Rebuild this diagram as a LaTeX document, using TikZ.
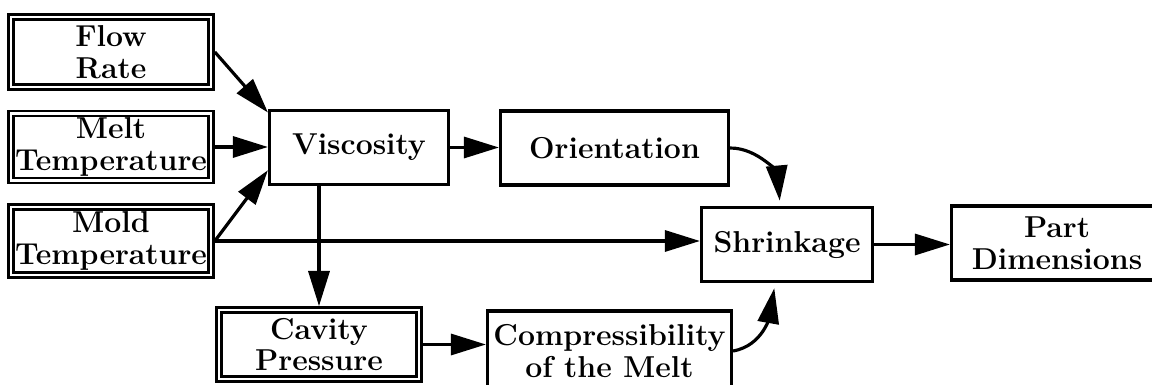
\documentclass[tikz,border=0pt]{standalone}
\usepackage{tikz}
\usetikzlibrary{arrows.meta, positioning, calc}

\begin{document}
\begin{tikzpicture}[x=0.02cm, y=0.02cm,
      box/.style={draw, line width=1.8pt, inner sep=0pt,
                  minimum height=1.48cm, align=center,
                  font=\fontsize{17.2}{18}\selectfont\bfseries},
      dbox/.style={box, double, line width=1.6pt, double distance=1.2pt,
                   outer sep=2.2pt, minimum width=4.0cm},
      arr/.style={-{Triangle[length=20pt, width=12pt]}, line width=1.8pt}
    ]
      \useasboundingbox (0,0) rectangle (1152,385);

      % inputs
      \node[dbox, minimum height=1.4cm]  (flow) at (111,333) {Flow\\Rate};
      \node[dbox, minimum height=1.34cm] (melt) at (111,238) {Melt\\Temperature};
      \node[dbox, minimum height=1.36cm] (mold) at (111,144) {Mold\\Temperature};
      \node[dbox, minimum height=1.38cm] (cavity) at (319,40.5) {Cavity\\Pressure};

      % intermediate effects
      \node[box, minimum width=3.58cm] (visc) at (359,237.5) {Viscosity};
      \node[box, minimum width=4.56cm] (orient) at (614.5,237) {Orientation};
      \node[box, minimum width=4.88cm, minimum height=1.6cm] (comp) at (609.5,34)
           {Compressibility\\of the Melt};
      \node[box, minimum width=3.42cm] (shrink) at (787,140.5) {Shrinkage};
      \node[box, minimum width=4.22cm] (part) at (1057,142) {Part\\Dimensions};

      % connectors
      \draw[arr] (flow.east) -- (visc.159);
      \draw[arr] (melt.east) -- (melt.east -| visc.west);
      \draw[arr] (mold.east) -- (visc.194);
      \draw[arr] (mold.east) -- (mold.east -| shrink.west);
      \draw[arr] (visc.east) -- (visc.east -| orient.west);
      \draw[arr] (visc.south -| cavity.north) -- (cavity.north);
      \draw[arr] (cavity.east) -- (cavity.east -| comp.west);
      \draw[arr, shorten >=3pt] (orient.east) to[out=0, in=95] (shrink.100);
      \draw[arr, shorten >=3pt] (comp.east) to[out=10, in=-100] (shrink.253);
      \draw[arr] (shrink.east) -- (shrink.east -| part.west);
    \end{tikzpicture}
\end{document}
